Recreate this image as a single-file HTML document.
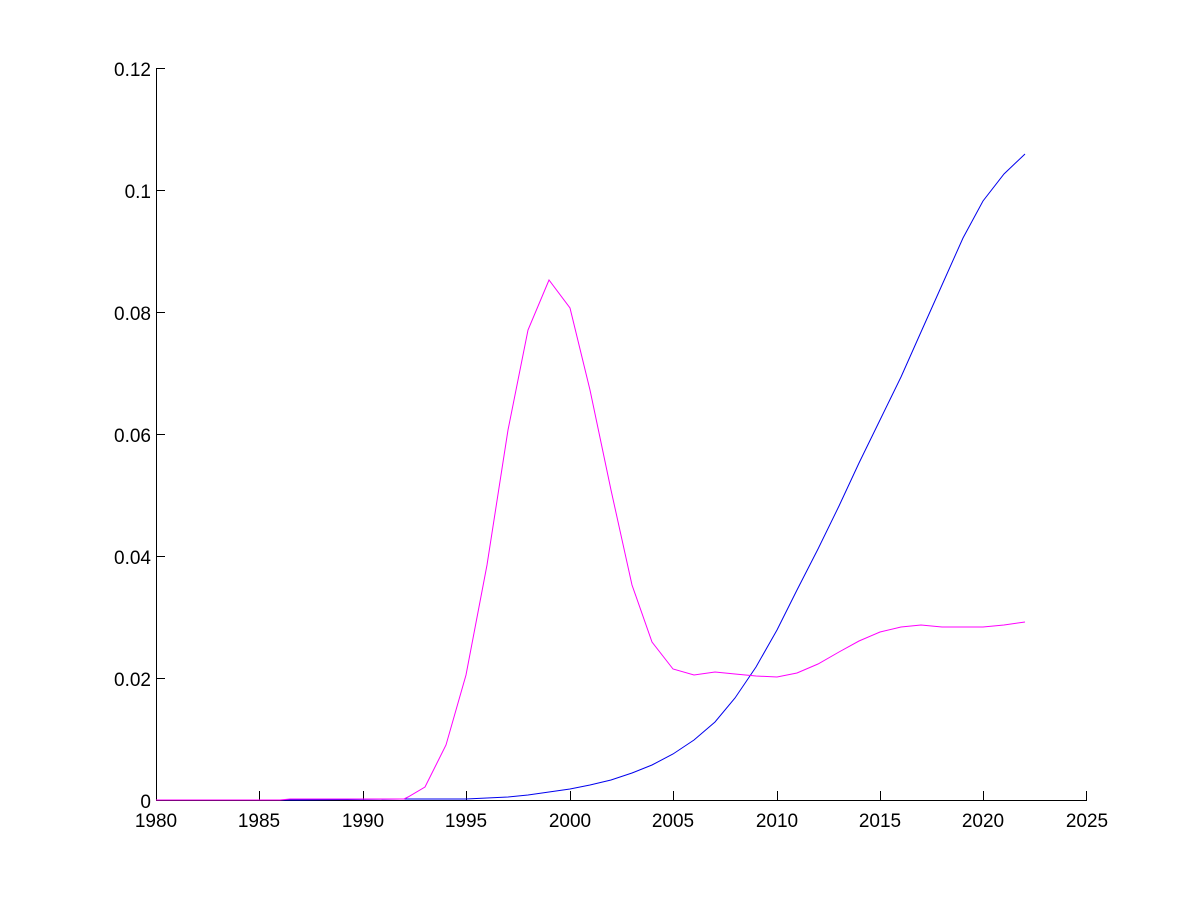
<!DOCTYPE html>
<html><head><meta charset="utf-8"><style>body{margin:0;background:#fff}</style></head><body>
<svg width="1200" height="900" xmlns="http://www.w3.org/2000/svg" font-family="Liberation Sans, Arial, sans-serif" font-size="19">
<rect width="1200" height="900" fill="#fff"/>
<g stroke="#000" stroke-width="1" fill="none">
<line x1="156.5" y1="68" x2="156.5" y2="800"/>
<line x1="156" y1="800.5" x2="1087" y2="800.5"/>
<path d="M156,68.5h9M156,190.5h9M156,312.5h9M156,434.5h9M156,556.5h9M156,678.5h9M156,800.5h9"/>
<path d="M259.5,800v-9M363.5,800v-9M466.5,800v-9M570.5,800v-9M673.5,800v-9M777.5,800v-9M880.5,800v-9M983.5,800v-9M1086.5,800v-9"/>
</g>
<g text-anchor="end">
<text x="151" y="76">0.12</text><text x="151" y="198">0.1</text><text x="151" y="320">0.08</text><text x="151" y="442">0.06</text><text x="151" y="564">0.04</text><text x="151" y="686">0.02</text><text x="151" y="808">0</text>
</g>
<g text-anchor="middle">
<text x="156" y="827">1980</text><text x="259" y="827">1985</text><text x="363" y="827">1990</text><text x="466" y="827">1995</text><text x="570" y="827">2000</text><text x="673" y="827">2005</text><text x="777" y="827">2010</text><text x="880" y="827">2015</text><text x="983" y="827">2020</text><text x="1087" y="827">2025</text>
</g>
<polyline fill="none" stroke="#0000ee" stroke-width="1" points="156,800 300,800 400,799 466,799 508,797 528,795 549,792 570,789 590,785 611,780 632,773 652,765 673,754 694,740 715,722 735,698 756,667 777,630 797,590 818,549 839,506 859,463 880,420 901,377 921,332 942,285 963,238 983,201 1004,174 1025,154"/>
<polyline fill="none" stroke="#ff00ff" stroke-width="1" points="156,800 280,800 290,799 404,799 408,797 425,787 446,745 466,675 487,565 508,430 528,330 549,280 570,308 590,390 611,490 632,585 652,642 673,669 694,675 715,672 735,674 756,676 777,677 797,673 818,664 839,652 859,641 880,632 901,627 921,625 942,627 963,627 983,627 1004,625 1025,622"/>
</svg>
</body></html>
